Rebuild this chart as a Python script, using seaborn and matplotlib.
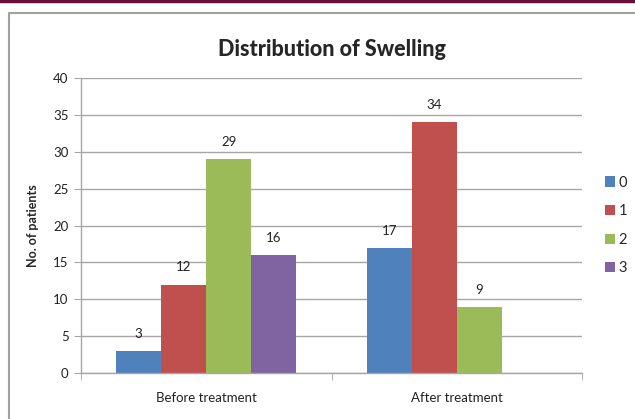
import pandas as pd
import numpy as np
import matplotlib
matplotlib.use("Agg")
import matplotlib.pyplot as plt
import seaborn as sns
from matplotlib.patches import Rectangle
from matplotlib.lines import Line2D

# data
groups = ["Before treatment", "After treatment"]
grades = ["0", "1", "2", "3"]
before = [3, 12, 29, 16]
after = [17, 34, 9, np.nan]   # no grade-3 bar after treatment
colors = ["#4F81BD", "#C0504D", "#9BBB59", "#8064A2"]

df = pd.DataFrame({
    "Group": [g for g in groups for _ in grades],
    "Grade": grades * 2,
    "Patients": before + after,
})

sns.set_style("white")
plt.rcParams["font.family"] = ["Lato", "DejaVu Sans"]

fig = plt.figure(figsize=(6.35, 4.19), dpi=100)
ax = fig.add_axes([81 / 635, 46 / 419, 501 / 635, 295 / 419])

sns.barplot(data=df, x="Group", y="Patients", hue="Grade", order=groups,
            hue_order=grades, palette=colors, width=0.72, saturation=1,
            linewidth=0, ax=ax)

# value labels
for cont in ax.containers:
    labels = ["" if np.isnan(v) else f"{v:.0f}" for v in cont.datavalues]
    ax.bar_label(cont, labels=labels, padding=8, fontsize=9.5, color="#222222")

ax.set_ylim(0, 40)
ax.set_yticks(range(0, 41, 5))
ax.set_xlim(-0.5, 1.5)
ax.yaxis.grid(True, color="#A6A6A6", linewidth=1)
ax.set_axisbelow(True)
ax.set_xlabel("")
ax.set_ylabel("No. of patients", fontsize=9, fontweight="bold", labelpad=10)
ax.set_title("Distribution of Swelling", fontsize=15.5, fontweight="black", pad=16)

for s in ["top", "right"]:
    ax.spines[s].set_visible(False)
for s in ["left", "bottom"]:
    ax.spines[s].set_color("#A6A6A6")
    ax.spines[s].set_linewidth(1)

ax.tick_params(axis="y", length=5, color="#A6A6A6", labelsize=9.5, pad=4,
               labelcolor="#222222", left=True)
ax.tick_params(axis="x", length=0, labelsize=9.5, pad=14, labelcolor="#222222")
# category boundary ticks on x axis
ax.set_xticks([-0.5, 0.5, 1.5], minor=True)
ax.tick_params(axis="x", which="minor", length=5, color="#A6A6A6", bottom=True)

handles = [Rectangle((0, 0), 1, 1, facecolor=c, edgecolor="none") for c in colors]
ax.legend(handles, grades, loc="center left", bbox_to_anchor=(1.02, 0.5),
          frameon=False, fontsize=10.5, handlelength=0.7, handleheight=0.7,
          handletextpad=0.2, labelspacing=1.0)

# chart frame and page rule from the document
fig.add_artist(Line2D([0, 1], [1 - 1.5 / 419, 1 - 1.5 / 419], color="#6B0D3A",
                      linewidth=2.5, transform=fig.transFigure))
fig.add_artist(Line2D([8.5 / 635, 8.5 / 635, 1], [0, 1 - 13.5 / 419, 1 - 13.5 / 419],
                      color="#A0A0A0", linewidth=1.5, transform=fig.transFigure))

fig.savefig("out.png", dpi=100)
